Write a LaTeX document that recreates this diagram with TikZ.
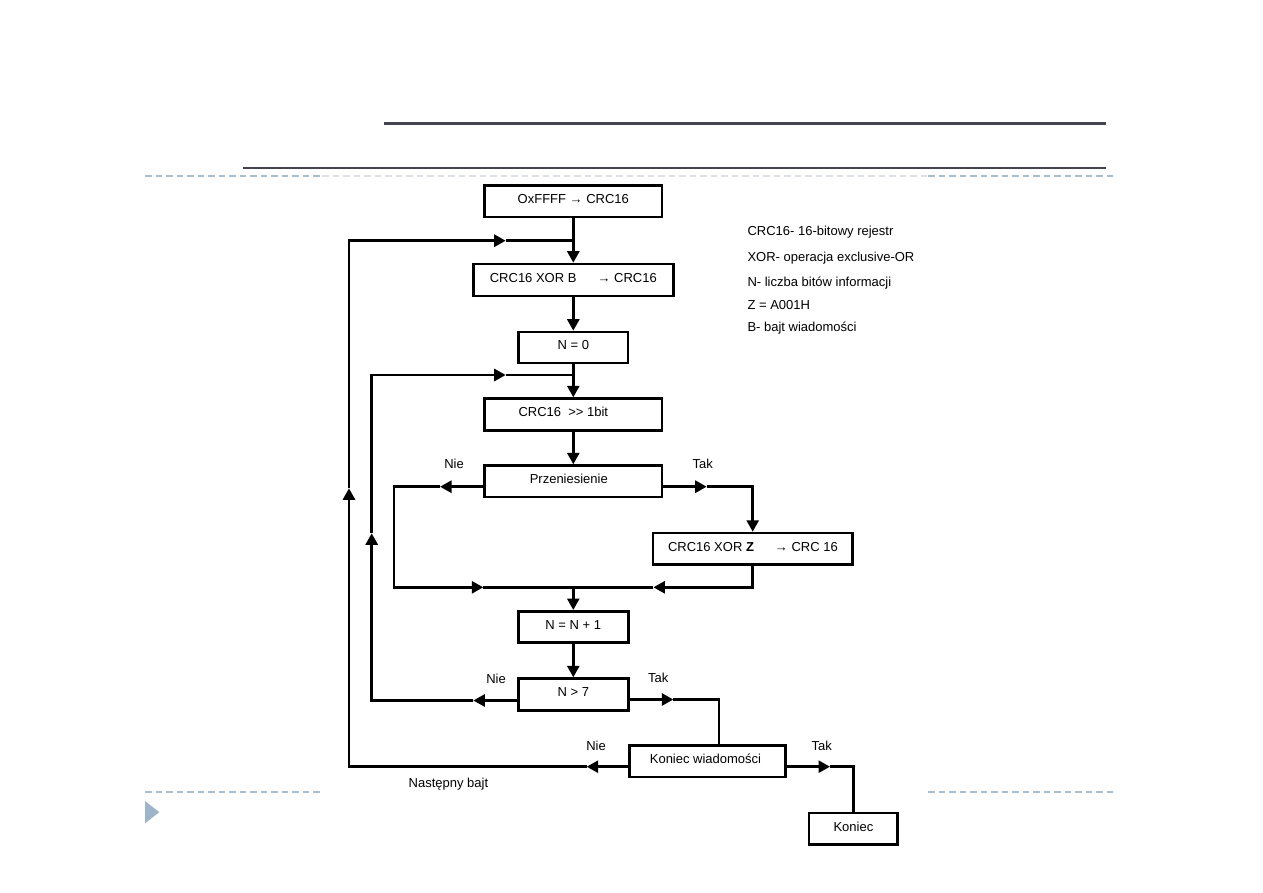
\documentclass[tikz,border=0pt]{standalone}
\usepackage{fontspec}
\setmainfont{Liberation Sans}
\usetikzlibrary{arrows.meta,calc}
\definecolor{topline}{HTML}{45454F}
\definecolor{dashblue}{HTML}{A7BDD0}
\definecolor{dashgray}{HTML}{DDE1E6}
\definecolor{trifill}{HTML}{9EB5C9}
\newcommand{\flfont}{\fontsize{13}{15}\selectfont}
\begin{document}
\begin{tikzpicture}[x=1pt,y=-1pt,
  box/.style={draw, line width=2.7pt, inner sep=0pt, font=\flfont, text height=8.5pt, text depth=4pt},
  conn/.style={draw, line width=2.7pt},
  ar/.style={draw, line width=2.7pt, -{Triangle[length=11.5pt,width=12pt]}},
  lbl/.style={inner sep=0pt, font=\flfont, text height=9pt, text depth=0pt},
  dsh/.style={line width=2pt, dash pattern=on 6.5pt off 4pt},
]
\fill[white] (0,0) rectangle (1263,893);
\useasboundingbox (0,0) rectangle (1263,893);

% slide decorations
\draw[line width=3pt, topline] (384,123.5) -- (1106,123.5);
\draw[line width=2.5pt, topline] (243,168) -- (1106,168);
\draw[dsh, dashblue] (145,176.3) -- (322,176.3);
\draw[dsh, dashgray] (322,176.3) -- (928,176.3);
\draw[dsh, dashblue] (928,176.3) -- (1117,176.3);
\draw[dsh, dashblue] (145,791.7) -- (320,791.7);
\draw[dsh, dashblue] (928,791.7) -- (1117,791.7);
\fill[trifill] (145,801) -- (159.3,812.2) -- (145,823.3) -- cycle;

% boxes
\node[box, minimum width=177.3pt, minimum height=31.6pt] (b1) at (573.3,201.2) {OxFFFF → CRC16};
\node[box, minimum width=200pt, minimum height=31.9pt] (b2) at (573.3,280) {CRC16 XOR B\hspace{21pt}→ CRC16};
\node[box, minimum width=109.3pt, minimum height=30.9pt] (b3) at (573.3,347.5) {N = 0};
\node[box, minimum width=177.3pt, minimum height=31.7pt] (b4) at (573.3,414.5) {CRC16\ \ >{}> 1bit\kern20pt};
\node[box, minimum width=177.3pt, minimum height=31.3pt] (b5) at (573.3,481.3) {Przeniesienie\kern9pt};
\node[box, minimum width=199.6pt, minimum height=31.6pt] (b6) at (752.9,548.9) {CRC16 XOR \textbf{Z}\hspace{21pt}→ CRC 16};
\node[box, minimum width=109.9pt, minimum height=31.3pt] (b7) at (573.3,627) {N = N + 1};
\node[box, minimum width=109.9pt, minimum height=31.7pt] (b8) at (573.3,694.5) {N > 7};
\node[box, minimum width=155.7pt, minimum height=31.6pt] (b9) at (707.5,761.2) {Koniec wiadomości\kern4pt};
\node[box, minimum width=88.6pt, minimum height=31.6pt] (b10) at (853.4,828.9) {Koniec};

% coordinates
\coordinate (j1) at (573.3,240.7);
\coordinate (j2) at (573.3,375);
\coordinate (jm) at (573.3,587.3);
\coordinate (c9l) at ($(b9.west)+(0,5.5)$);
\coordinate (t9l) at (586.7,766.7);
\coordinate (o1) at (349,766.7);
\coordinate (o2) at (349,488.3);
\coordinate (o3) at (349,240.7);
\coordinate (t1) at (505.7,240.7);
\coordinate (c8l) at ($(b8.west)+(0,6)$);
\coordinate (t8l) at (473.3,700.5);
\coordinate (p1) at (371.7,700.5);
\coordinate (p2) at (371.7,533.3);
\coordinate (p3) at (371.7,375);
\coordinate (t2) at (505.7,375);
\coordinate (c5l) at ($(b5.west)+(0,5.4)$);
\coordinate (t5l) at (440,486.7);
\coordinate (q1) at (394,486.7);
\coordinate (q2) at (394,587.3);
\coordinate (tm1) at (483.3,587.3);
\coordinate (c5r) at ($(b5.east)+(0,5.4)$);
\coordinate (t5r) at (706.7,486.7);
\coordinate (r1) at (752.7,486.7);
\coordinate (r2) at (752.7,587.3);
\coordinate (tm2) at (653.4,587.3);
\coordinate (c8r) at ($(b8.east)+(0,5)$);
\coordinate (t8r) at (673.3,699.5);
\coordinate (s1) at (719,699.5);
\coordinate (c9r) at ($(b9.east)+(0,5.5)$);
\coordinate (t9r) at (830,766.7);
\coordinate (u1) at (853.3,766.7);

% main flow
\draw[ar] (b1.south) -- (b2.north);
\draw[ar] (b2.south) -- (b3.north);
\draw[ar] (b3.south) -- (b4.north);
\draw[ar] (b4.south) -- (b5.north);
% Przeniesienie: Nie
\draw[ar] (c5l) -- (t5l);
\draw[ar] (t5l) -- (q1) -- (q2) -- (tm1);
\draw[conn] (tm1) -- (jm);
% Przeniesienie: Tak
\draw[ar] (c5r) -- (t5r);
\draw[ar] (t5r) -- (r1) -- (r1 |- b6.north);
\draw[ar] (r1 |- b6.south) -- (r2) -- (tm2);
\draw[conn] (tm2) -- (jm);
\draw[ar] (jm) -- (b7.north);
\draw[ar] (b7.south) -- (b8.north);
% N > 7: Nie
\draw[ar] (c8l) -- (t8l);
\draw[ar] (t8l) -- (p1) -- (p2);
\draw[ar] (p2) -- (p3) -- (t2);
\draw[conn] (t2) -- (j2);
% N > 7: Tak
\draw[ar] (c8r) -- (t8r);
\draw[conn] (t8r) -- (s1) -- (s1 |- b9.north);
% Koniec wiadomosci: Nie
\draw[ar] (c9l) -- (t9l);
\draw[ar] (t9l) -- (o1) -- (o2);
\draw[ar] (o2) -- (o3) -- (t1);
\draw[conn] (t1) -- (j1);
% Koniec wiadomosci: Tak
\draw[ar] (c9r) -- (t9r);
\draw[conn] (t9r) -- (u1) -- (u1 |- b10.north);

% labels
\node[lbl] (nie1) at (454,464.3) {Nie};
\node[lbl] (tak1) at (702.7,464.3) {Tak};
\node[lbl] (nie2) at (496,679.3) {Nie};
\node[lbl] (tak2) at (658.3,678.3) {Tak};
\node[lbl] (nie3) at (596,746) {Nie};
\node[lbl] (tak3) at (821.7,746) {Tak};
\node[lbl] (nb) at (448.4,782.5) {Następny bajt};

% legend
\node[lbl, anchor=west] (lg1) at (747.3,231) {CRC16- 16-bitowy rejestr};
\node[lbl, anchor=west] (lg2) at (747.3,256.7) {XOR- operacja exclusive-OR};
\node[lbl, anchor=west] (lg3) at (747.3,281.7) {N- liczba bitów informacji};
\node[lbl, anchor=west] (lg4) at (747.3,305) {Z = A001H};
\node[lbl, anchor=west] (lg5) at (747.3,326.7) {B- bajt wiadomości};
\end{tikzpicture}
\end{document}
